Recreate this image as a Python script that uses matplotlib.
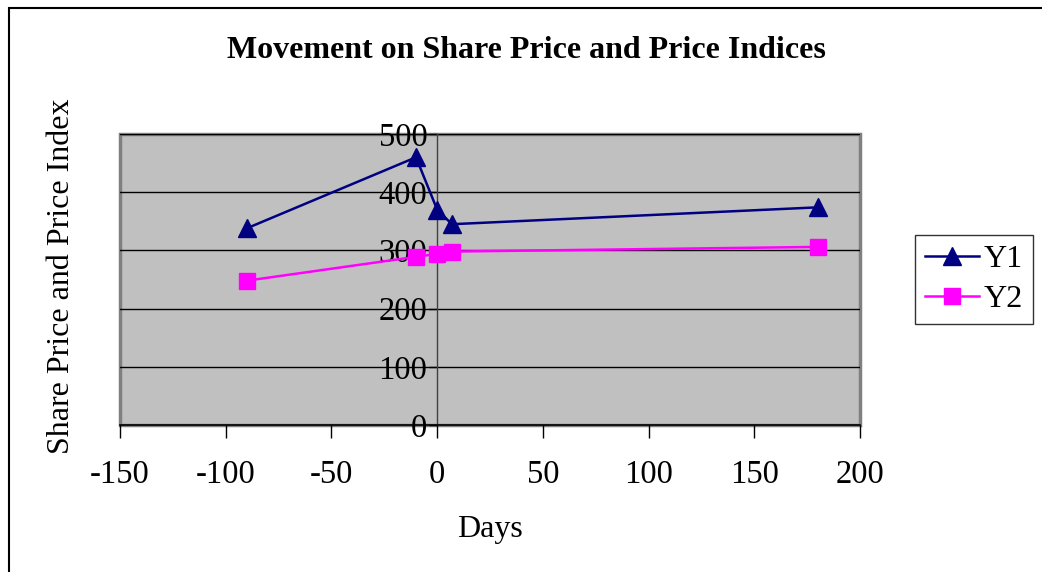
import matplotlib
matplotlib.use("Agg")
import matplotlib.pyplot as plt
from matplotlib.patches import Rectangle

plt.rcParams['font.family'] = ['Liberation Serif', 'DejaVu Serif']
plt.rcParams['axes.unicode_minus'] = False

days = [-90, -10, 0, 7, 180]
y1 = [338, 460, 370, 345, 374]
y2 = [248, 289, 294, 298, 306]
xticks = [-150, -100, -50, 0, 50, 100, 150, 200]
yticks = [0, 100, 200, 300, 400, 500]

fig = plt.figure(figsize=(10.42, 5.72), dpi=100)
# outer chart border (top and left visible)
fig.add_artist(Rectangle((9/1042, -0.1), 1.2, (572-8)/572 + 0.1, transform=fig.transFigure,
                         fill=False, edgecolor='black', lw=1.5))

ax = fig.add_axes([120/1042, 1-425/572, 740/1042, 291/572])
ax.set_facecolor('#C0C0C0')
ax.set_xlim(-150, 200)
ax.set_ylim(0, 500)

for v in yticks[1:]:
    ax.axhline(v, color='black', lw=1, zorder=1)

ax.plot(days, y1, color='#000080', marker='^', markersize=12.5, lw=1.8, label='Y1', zorder=3)
ax.plot(days, y2, color='#FF00FF', marker='s', markersize=11, lw=1.8, label='Y2', zorder=3)

for s in ['top', 'right']:
    ax.spines[s].set_visible(False)
ax.spines['left'].set_position(('data', 0))
ax.spines['left'].set_color('#404040')
ax.spines['left'].set_linewidth(1)
ax.spines['bottom'].set_color('black')
ax.spines['bottom'].set_linewidth(1.2)
ax.add_patch(Rectangle((0, 0), 1, 1, transform=ax.transAxes, fill=False,
                       edgecolor='#808080', lw=2.5, clip_on=False, zorder=0.5))

ax.set_xticks(xticks)
ax.set_yticks(yticks)
ax.tick_params(axis='x', direction='out', length=9, width=1, labelsize=23.5, pad=16)
ax.tick_params(axis='y', direction='out', length=6, width=1, labelsize=23.5, pad=1)

ax.set_xlabel('Days', fontsize=23, labelpad=18)
fig.text(62/1042, 1-276/572, 'Share Price and Price Index', rotation=90, fontsize=23,
         ha='center', va='center')
fig.text(526/1042, 1-50/572, 'Movement on Share Price and Price Indices', fontsize=23,
         fontweight='bold', ha='center', va='center')

leg = ax.legend(loc='center left', bbox_to_anchor=(915/740 - 120/740, 0.5), fontsize=23,
                frameon=True, fancybox=False, edgecolor='black', handlelength=1.7,
                handletextpad=0.15, borderpad=0.3, labelspacing=0.35, borderaxespad=0)
leg.get_frame().set_linewidth(1)

fig.savefig('out.png', dpi=100)
